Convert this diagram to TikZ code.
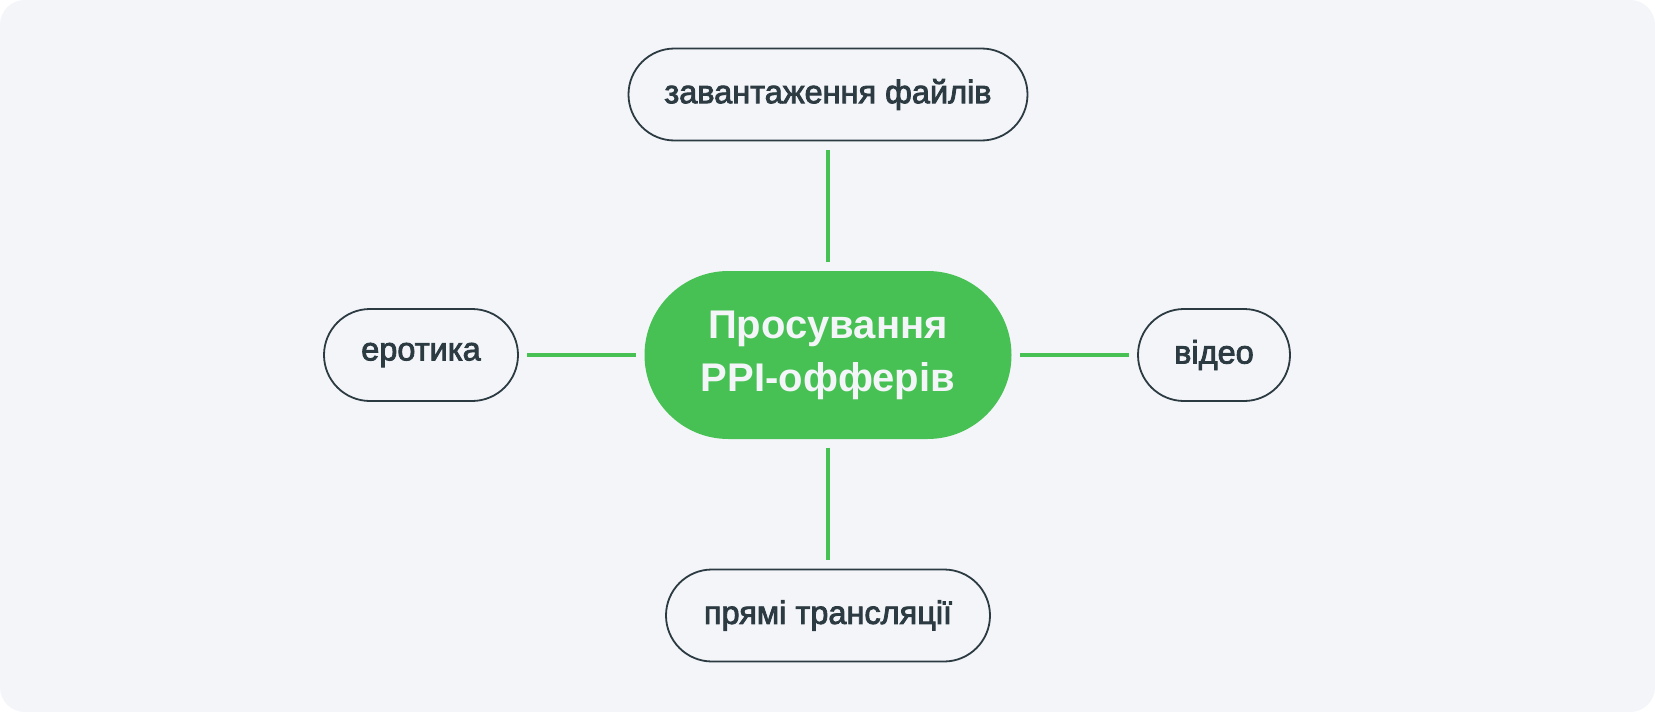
\documentclass[tikz,border=0pt]{standalone}
\usepackage{fontspec}
\setmainfont{Liberation Sans}
\newfontfamily\nodefont{Liberation Sans}[FakeBold=2.6]
\newfontfamily\hubfont{Liberation Sans Bold}
\definecolor{bgc}{HTML}{F3F5F9}
\definecolor{grn}{HTML}{47C153}
\definecolor{ink}{HTML}{2C3A41}
\begin{document}
\begin{tikzpicture}[x=1pt,y=-1pt,
  leaf/.style={draw=ink,line width=1.8pt,fill=bgc,rounded corners=46pt,
    minimum height=92pt,inner sep=0pt,text=ink,
    font=\nodefont\fontsize{32.5}{38}\selectfont},
  hub/.style={fill=grn,rounded corners=84pt,minimum width=367pt,minimum height=168pt,
    inner sep=0pt,text=bgc,align=center,
    font=\hubfont\fontsize{40}{53}\selectfont},
  link/.style={draw=grn,line width=3.2pt,shorten <=8.5pt,shorten >=8.5pt}]
\fill[white] (0,0) rectangle (1655,712);
\fill[bgc,rounded corners=25pt] (0,0) rectangle (1655,712);
\useasboundingbox (0,0) rectangle (1655,712);
\node[hub] (c) at (828,355) {Просування\\PPI-офферів};
\node[leaf,minimum width=399pt] (t) at (828,94.5) {завантаження файлів};
\node[leaf,minimum width=194pt] (l) at (421,355) {еротика};
\node[leaf,minimum width=152pt] (r) at (1214,355) {відео};
\node[leaf,minimum width=324pt] (b) at (828,615.5) {прямі трансляції};
\draw[link] (c.north) -- (t.south);
\draw[link] (c.south) -- (b.north);
\draw[link] (c.west) -- (l.east);
\draw[link] (c.east) -- (r.west);
\end{tikzpicture}
\end{document}
